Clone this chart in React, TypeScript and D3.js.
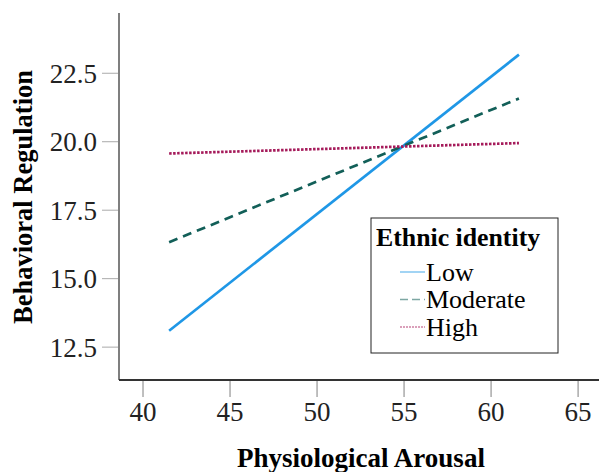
import { useRef, useEffect } from "react";
import * as d3 from "d3";

// simple slopes
const seriesNames = ["Low", "Moderate", "High"];
const arousalRange = [41.5, 61.6];
const lowValues = [13.1, 23.18];
const moderateValues = [16.33, 21.58];
const highValues = [19.57, 19.95];
const xTicks = [40, 45, 50, 55, 60, 65];
const yTicks = [12.5, 15.0, 17.5, 20.0, 22.5];

const colors = ["#1f97e6", "#125f58", "#a51a5a"];
const dashes = [null, "9,6", "2.5,1.5"];

const WIDTH = 599;
const HEIGHT = 472;
const FONT = "'Liberation Serif', 'Times New Roman', serif";

function App() {
  const svgRef = useRef<SVGSVGElement>(null);

  useEffect(() => {
    const svg = d3.select(svgRef.current);
    svg.selectAll("*").remove();

    const x = d3.scaleLinear().domain([38.62, 66.2]).range([119, 599]);
    const y = d3.scaleLinear().domain([11.3, 24.7]).range([380, 13]);

    // y axis
    const yAxis = svg.append("g").attr("transform", "translate(119,0)");
    yAxis.append("line")
      .attr("y1", y(24.7)).attr("y2", y(11.3))
      .attr("stroke", "#7f7f7f").attr("stroke-width", 2);
    yAxis.selectAll(".yt")
      .data(yTicks)
      .join("line")
      .attr("x1", -17).attr("x2", -1)
      .attr("y1", (d) => y(d)).attr("y2", (d) => y(d))
      .attr("stroke", "#aaaaaa").attr("stroke-width", 1);
    yAxis.selectAll(".yl")
      .data(yTicks)
      .join("text")
      .attr("x", -22)
      .attr("y", (d) => y(d))
      .attr("dy", "0.35em")
      .attr("text-anchor", "end")
      .attr("font-family", FONT)
      .attr("font-size", 27)
      .attr("fill", "#222")
      .text((d) => d3.format(".1f")(d));

    // x axis
    const xAxis = svg.append("g").attr("transform", "translate(0,380)");
    xAxis.append("line")
      .attr("x1", 119).attr("x2", 599)
      .attr("stroke", "#333").attr("stroke-width", 2);
    xAxis.selectAll(".xt")
      .data(xTicks)
      .join("line")
      .attr("x1", (d) => x(d)).attr("x2", (d) => x(d))
      .attr("y1", 1).attr("y2", 17)
      .attr("stroke", "#aaaaaa").attr("stroke-width", 1.5);
    xAxis.selectAll(".xl")
      .data(xTicks)
      .join("text")
      .attr("x", (d) => x(d))
      .attr("y", 41)
      .attr("text-anchor", "middle")
      .attr("font-family", FONT)
      .attr("font-size", 27)
      .attr("fill", "#222")
      .text((d) => d);

    // axis titles
    svg.append("text")
      .attr("x", 361).attr("y", 467)
      .attr("text-anchor", "middle")
      .attr("font-family", FONT)
      .attr("font-weight", "bold")
      .attr("font-size", 27)
      .text("Physiological Arousal");
    svg.append("text")
      .attr("transform", "translate(32,197) rotate(-90)")
      .attr("text-anchor", "middle")
      .attr("font-family", FONT)
      .attr("font-weight", "bold")
      .attr("font-size", 26.5)
      .text("Behavioral Regulation");

    // lines
    const allValues = [lowValues, moderateValues, highValues];
    const line = d3.line<number>()
      .x((d, i) => x(arousalRange[i]))
      .y((d) => y(d));
    allValues.forEach((vals, i) => {
      svg.append("path")
        .attr("d", line(vals))
        .attr("fill", "none")
        .attr("stroke", colors[i])
        .attr("stroke-width", 2.7)
        .attr("stroke-dasharray", dashes[i]);
    });

    // legend
    const lg = svg.append("g");
    lg.append("rect")
      .attr("x", 371).attr("y", 218)
      .attr("width", 187).attr("height", 135)
      .attr("fill", "white")
      .attr("stroke", "#222").attr("stroke-width", 1);
    lg.append("text")
      .attr("x", 376).attr("y", 246)
      .attr("font-family", FONT)
      .attr("font-weight", "bold")
      .attr("font-size", 25.8)
      .text("Ethnic identity");
    seriesNames.forEach((name, i) => {
      const yy = 272 + i * 27.5;
      lg.append("line")
        .attr("x1", 400).attr("x2", 425)
        .attr("y1", yy).attr("y2", yy)
        .attr("stroke", colors[i])
        .attr("stroke-opacity", 0.55)
        .attr("stroke-width", 1.5)
        .attr("stroke-dasharray", i === 1 ? "8,4" : i === 2 ? "2,1" : null);
      lg.append("text")
        .attr("x", 426).attr("y", yy + 8.5)
        .attr("font-family", FONT)
        .attr("font-size", 26)
        .text(name);
    });
  }, []);

  return (
    <svg
      ref={svgRef}
      width={WIDTH}
      height={HEIGHT}
      style={{ position: "absolute", left: 0, top: 0, background: "white" }}
    />
  );
}

export default App;
